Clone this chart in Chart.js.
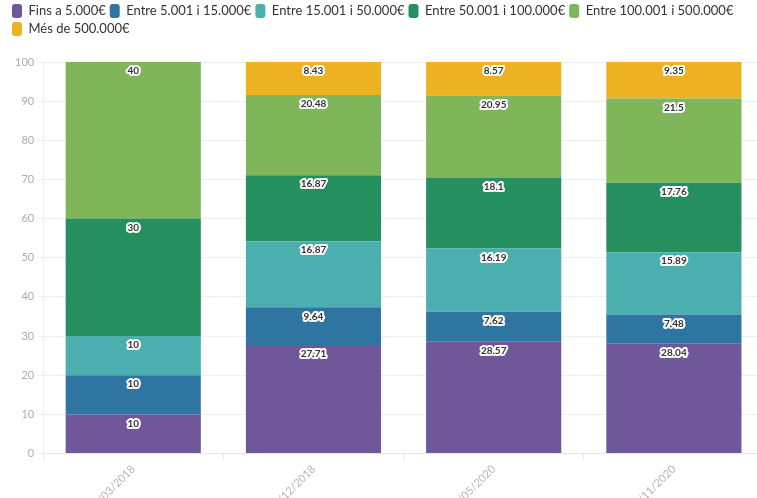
<!DOCTYPE html>
<html>
<head>
<meta charset="utf-8">
<script src="https://cdn.jsdelivr.net/npm/chart.js@4/dist/chart.umd.min.js"></script>
<style>
  html, body { margin: 0; padding: 0; background: #fff; overflow: hidden; }
  #wrap { position: relative; width: 768px; height: 518px; }
</style>
</head>
<body>
<div id="wrap"><canvas id="chart"></canvas></div>
<script>
// Dates (x axis) and series values, in percent
const dates = ['31/03/2018', '31/12/2018', '31/05/2020', '30/11/2020'];

const fins5000 = [10, 27.71, 28.57, 28.04];
const entre5001 = [10, 9.64, 7.62, 7.48];
const entre15001 = [10, 16.87, 16.19, 15.89];
const entre50001 = [30, 16.87, 18.1, 17.76];
const entre100001 = [40, 20.48, 20.95, 21.5];
const mes500000 = [0, 8.43, 8.57, 9.35];

const yTicks = [0, 10, 20, 30, 40, 50, 60, 70, 80, 90, 100];

const fontName = "Lato, 'Open Sans', sans-serif";

// a bit more room under the legend
const legendSpace = {
    id: 'legendSpace',
    beforeInit(chart) {
        const fit = chart.legend.fit;
        chart.legend.fit = function () {
            fit.bind(chart.legend)();
            this.height += 16;
        };
    }
};

// draws the value near the top of each segment, dark text with a white halo
const segmentLabels = {
    id: 'segmentLabels',
    afterDatasetsDraw(chart) {
        const ctx = chart.ctx;
        ctx.save();
        ctx.font = "bold 10px " + fontName;
        ctx.textAlign = 'center';
        ctx.textBaseline = 'middle';
        ctx.lineJoin = 'round';
        chart.data.datasets.forEach((ds, i) => {
            const meta = chart.getDatasetMeta(i);
            meta.data.forEach((bar, j) => {
                const v = ds.data[j];
                if (!v) return;
                const txt = String(v);
                const y = bar.y + 9;
                ctx.lineWidth = 4;
                ctx.strokeStyle = '#fff';
                ctx.strokeText(txt, bar.x, y);
                ctx.fillStyle = '#333';
                ctx.fillText(txt, bar.x, y);
            });
        });
        ctx.restore();
    }
};

const ctx = document.getElementById('chart').getContext('2d');
new Chart(ctx, {
    type: 'bar',
    data: {
        labels: dates,
        datasets: [
            { label: 'Fins a 5.000€', data: fins5000, backgroundColor: '#6f5799' },
            { label: 'Entre 5.001 i 15.000€', data: entre5001, backgroundColor: '#2f75a2' },
            { label: 'Entre 15.001 i 50.000€', data: entre15001, backgroundColor: '#4bafaf' },
            { label: 'Entre 50.001 i 100.000€', data: entre50001, backgroundColor: '#268f60' },
            { label: 'Entre 100.001 i 500.000€', data: entre100001, backgroundColor: '#7fb65a' },
            { label: 'Més de 500.000€', data: mes500000, backgroundColor: '#edb222' }
        ]
    },
    options: {
        responsive: true,
        maintainAspectRatio: false,
        animation: false,
        layout: { padding: { left: 8, right: 4, top: 0, bottom: 0 } },
        datasets: {
            bar: { categoryPercentage: 1, barPercentage: 0.75 }
        },
        plugins: {
            tooltip: { enabled: false },
            legend: {
                position: 'top',
                align: 'start',
                labels: {
                    boxWidth: 10,
                    boxHeight: 14,
                    padding: 4,
                    useBorderRadius: true,
                    borderRadius: 3,
                    color: '#333',
                    font: { family: fontName, size: 13 }
                }
            }
        },
        scales: {
            x: {
                stacked: true,
                grid: { drawOnChartArea: false, tickLength: 6, color: '#e6e6e6' },
                border: { color: '#e6e6e6' },
                ticks: {
                    color: '#b5b5b5',
                    minRotation: 45,
                    maxRotation: 45,
                    font: { family: fontName, size: 11 }
                }
            },
            y: {
                stacked: true,
                min: 0,
                max: 100,
                afterBuildTicks(axis) {
                    axis.ticks = yTicks.map(v => ({ value: v }));
                },
                afterFit(axis) {
                    axis.width += 4;
                },
                grid: { color: '#eeeeee', tickLength: 6 },
                border: { color: '#eeeeee' },
                ticks: {
                    color: '#aaa',
                    padding: 3,
                    font: { family: fontName, size: 11 }
                }
            }
        }
    },
    plugins: [legendSpace, segmentLabels]
});
</script>
</body>
</html>
